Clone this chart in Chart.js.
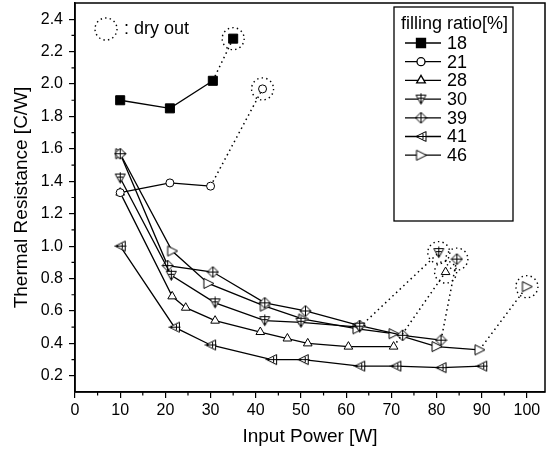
<!DOCTYPE html>
<html>
<head>
<meta charset="utf-8">
<script src="https://cdn.jsdelivr.net/npm/chart.js@4.4.1/dist/chart.umd.min.js"></script>
<style>
  html, body { margin: 0; padding: 0; background: #fff; }
  canvas { display: block; }
</style>
</head>
<body>
<canvas id="chart" width="550" height="451"></canvas>
<script>
// filling ratios [%] and measured points (input power W, thermal resistance C/W)
// the last point of a series marked in dryOut is the dry-out point
const fillRatios = ['18', '21', '28', '30', '39', '41', '46'];

const power18 = [10, 21, 30.5, 35];
const res18 = [1.90, 1.85, 2.02, 2.28];

const power21 = [10, 21, 30, 41.5];
const res21 = [1.33, 1.39, 1.37, 1.97];

const power28 = [10, 21.5, 24.5, 31, 41, 47, 51.5, 60.5, 70.5, 82];
const res28 = [1.33, 0.69, 0.62, 0.54, 0.47, 0.43, 0.40, 0.38, 0.38, 0.84];

const power30 = [10, 21.3, 31, 42, 50, 63, 80.5];
const res30 = [1.42, 0.82, 0.65, 0.54, 0.53, 0.50, 0.96];

const power39 = [10, 20.5, 30.5, 42, 51, 63, 72.5, 81, 84.5];
const res39 = [1.57, 0.88, 0.84, 0.65, 0.60, 0.51, 0.45, 0.42, 0.92];

const power41 = [10, 22, 30, 43.5, 50.5, 63, 71, 81, 90];
const res41 = [1.00, 0.50, 0.39, 0.30, 0.30, 0.26, 0.26, 0.25, 0.26];

const power46 = [10, 21.5, 29.5, 42, 50.5, 62.5, 70.5, 80, 89.5, 100];
const res46 = [1.57, 0.97, 0.77, 0.63, 0.55, 0.49, 0.46, 0.38, 0.36, 0.75];

const dryOut = [true, true, true, true, true, false, true];

const xTicks = [0, 10, 20, 30, 40, 50, 60, 70, 80, 90, 100];
const yTicks = [0.2, 0.4, 0.6, 0.8, 1.0, 1.2, 1.4, 1.6, 1.8, 2.0, 2.2, 2.4];

const FONT = "'Liberation Sans', Arial, sans-serif";

// small marker pictures for the symbols Chart.js has no style for
function marker(draw) {
  const c = document.createElement('canvas');
  c.width = 13;
  c.height = 13;
  const g = c.getContext('2d');
  g.strokeStyle = '#000';
  g.fillStyle = '#fff';
  g.lineWidth = 1;
  draw(g);
  return c;
}

function poly(g, pts) {
  g.beginPath();
  g.moveTo(pts[0][0], pts[0][1]);
  pts.slice(1).forEach(p => g.lineTo(p[0], p[1]));
  g.closePath();
  g.fill();
  g.stroke();
}

function line(g, x1, y1, x2, y2) {
  g.beginPath();
  g.moveTo(x1, y1);
  g.lineTo(x2, y2);
  g.stroke();
}

const triDown = marker(g => {
  poly(g, [[1.5, 2.5], [11.5, 2.5], [6.5, 11.5]]);
  line(g, 6.5, 0.5, 6.5, 11.5);
  line(g, 3.5, 5.5, 9.5, 5.5);
});

const diamond = marker(g => {
  poly(g, [[6.5, 1], [12, 6.5], [6.5, 12], [1, 6.5]]);
  line(g, 6.5, 1, 6.5, 12);
  line(g, 1, 6.5, 12, 6.5);
});

const triLeft = marker(g => {
  poly(g, [[1.5, 6.5], [11.5, 1.5], [11.5, 11.5]]);
  line(g, 0.5, 6.5, 12.5, 6.5);
  line(g, 8.5, 3.5, 8.5, 9.5);
});

const triRight = marker(g => {
  poly(g, [[2, 1.5], [2, 11.5], [12, 6.5]]);
});

const seriesPower = [power18, power21, power28, power30, power39, power41, power46];
const seriesRes = [res18, res21, res28, res30, res39, res41, res46];

const pointStyles = [
  { pointStyle: 'rect', radius: 6.4, fill: '#000' },
  { pointStyle: 'circle', radius: 4, fill: '#fff' },
  { pointStyle: 'triangle', radius: 5, fill: '#fff' },
  { pointStyle: triDown, radius: 6, fill: '#fff' },
  { pointStyle: diamond, radius: 6, fill: '#fff' },
  { pointStyle: triLeft, radius: 6, fill: '#fff' },
  { pointStyle: triRight, radius: 6, fill: '#fff' }
];

const datasets = fillRatios.map((label, i) => {
  const xs = seriesPower[i];
  const ys = seriesRes[i];
  const last = xs.length - 1;
  const ps = pointStyles[i];
  return {
    label: label,
    data: xs.map((x, j) => ({ x: x, y: ys[j] })),
    showLine: true,
    borderColor: '#000',
    borderWidth: 1.3,
    backgroundColor: ps.fill,
    pointStyle: ps.pointStyle,
    pointRadius: ps.radius,
    pointBorderColor: '#000',
    pointBackgroundColor: ps.fill,
    pointBorderWidth: 1,
    segment: {
      borderDash: ctx => (dryOut[i] && ctx.p1DataIndex === last) ? [1.5, 3.5] : undefined,
      borderWidth: ctx => (dryOut[i] && ctx.p1DataIndex === last) ? 1.5 : 1.3
    }
  };
});

function dottedCircle(ctx, x, y, r) {
  ctx.save();
  ctx.strokeStyle = '#000';
  ctx.lineWidth = 1.4;
  ctx.setLineDash([1.4, 3.2]);
  ctx.beginPath();
  ctx.arc(x, y, r, 0, Math.PI * 2);
  ctx.stroke();
  ctx.restore();
}

const decorations = {
  id: 'decorations',
  afterDraw(chart) {
    const ctx = chart.ctx;
    const a = chart.chartArea;
    const xs = chart.scales.x;
    const ys = chart.scales.y;

    // frame around the plot
    ctx.save();
    ctx.strokeStyle = '#000';
    ctx.lineWidth = 1.5;
    ctx.strokeRect(a.left, a.top, a.right - a.left, a.bottom - a.top);

    // minor ticks
    ctx.lineWidth = 1.2;
    ctx.beginPath();
    for (let v = 5; v <= 100; v += 10) {
      const px = xs.getPixelForValue(v);
      ctx.moveTo(px, a.bottom);
      ctx.lineTo(px, a.bottom + 3.5);
    }
    for (let k = 3; k <= 23; k += 2) {
      const py = ys.getPixelForValue(k / 10);
      ctx.moveTo(a.left, py);
      ctx.lineTo(a.left - 3.5, py);
    }
    ctx.stroke();
    ctx.restore();

    // dry-out rings
    chart.data.datasets.forEach((ds, i) => {
      if (!dryOut[i]) return;
      const pts = chart.getDatasetMeta(i).data;
      const p = pts[pts.length - 1];
      dottedCircle(ctx, p.x, p.y, 11);
    });

    // ": dry out" note
    dottedCircle(ctx, 106, 29, 11);
    ctx.save();
    ctx.fillStyle = '#000';
    ctx.font = '18px ' + FONT;
    ctx.textBaseline = 'middle';
    ctx.fillText(': dry out', 124, 29);
    ctx.restore();

    // legend box
    ctx.save();
    ctx.fillStyle = '#fff';
    ctx.fillRect(394, 7, 119, 214);
    ctx.strokeStyle = '#000';
    ctx.lineWidth = 1.3;
    ctx.strokeRect(394, 7, 119, 214);
    ctx.fillStyle = '#000';
    ctx.font = '18px ' + FONT;
    ctx.textBaseline = 'middle';
    ctx.fillText('filling ratio[%]', 401, 24);
    fillRatios.forEach((label, i) => {
      const y = 43 + i * 18.7;
      ctx.strokeStyle = '#000';
      ctx.lineWidth = 1.3;
      ctx.beginPath();
      ctx.moveTo(405, y);
      ctx.lineTo(441, y);
      ctx.stroke();
      const ps = pointStyles[i];
      ctx.fillStyle = ps.fill;
      Chart.helpers.drawPoint(ctx, {
        pointStyle: ps.pointStyle,
        radius: ps.radius,
        borderWidth: 1,
        rotation: 0
      }, 421, y);
      ctx.fillStyle = '#000';
      ctx.fillText(label, 447, y + 1);
    });
    ctx.restore();
  }
};

new Chart(document.getElementById('chart'), {
  type: 'scatter',
  data: { datasets: datasets },
  options: {
    responsive: false,
    animation: false,
    layout: { autoPadding: false, padding: { top: 3, right: 5, left: 0, bottom: 0 } },
    plugins: {
      legend: { display: false },
      tooltip: { enabled: false }
    },
    scales: {
      x: {
        type: 'linear',
        min: 0,
        max: 104,
        afterBuildTicks: s => { s.ticks = xTicks.map(v => ({ value: v })); },
        afterFit: s => {
          s.height = 59;
          s.paddingLeft = 0;
          s.paddingRight = 0;
          s.paddingTop = 0;
          s.paddingBottom = 0;
        },
        border: { color: '#000', width: 1.5 },
        grid: { drawOnChartArea: false, drawTicks: true, tickLength: 6, color: '#000', lineWidth: 1.2 },
        ticks: {
          color: '#000',
          font: { family: FONT, size: 16 },
          padding: 3,
          maxRotation: 0,
          autoSkip: false
        },
        title: {
          display: true,
          text: 'Input Power [W]',
          color: '#000',
          font: { family: FONT, size: 19 },
          padding: { top: 0, bottom: 3 }
        }
      },
      y: {
        type: 'linear',
        min: 0.1,
        max: 2.5,
        afterBuildTicks: s => { s.ticks = yTicks.map(v => ({ value: v })); },
        afterFit: s => {
          s.width = 75;
          s.paddingLeft = 0;
          s.paddingRight = 0;
          s.paddingTop = 0;
          s.paddingBottom = 0;
        },
        border: { color: '#000', width: 1.5 },
        grid: { drawOnChartArea: false, drawTicks: true, tickLength: 6, color: '#000', lineWidth: 1.2 },
        ticks: {
          color: '#000',
          font: { family: FONT, size: 16 },
          padding: 6,
          autoSkip: false,
          callback: v => v.toFixed(1)
        },
        title: {
          display: true,
          text: 'Thermal Resistance [C/W]',
          color: '#000',
          font: { family: FONT, size: 19 },
          padding: { top: 10, bottom: 0 }
        }
      }
    }
  },
  plugins: [decorations]
});
</script>
</body>
</html>
